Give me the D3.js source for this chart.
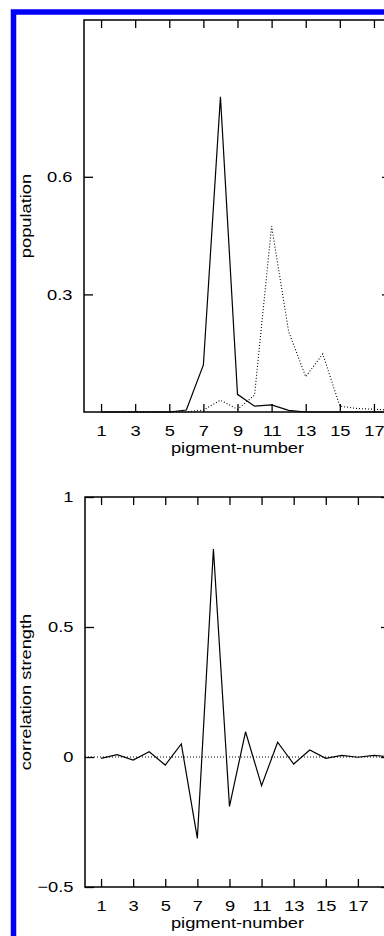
<!DOCTYPE html>
<html>
<head>
<meta charset="utf-8">
<script src="https://cdn.jsdelivr.net/npm/d3@7"></script>
<style>
  body { margin: 0; background: #fff; }
  svg { display: block; }
  text { font-family: "Liberation Sans", Arial, sans-serif; font-size: 15px; fill: #000; }
</style>
</head>
<body>
<svg id="chart"></svg>
<script>
// pigment numbers on the x axis
const pigments = d3.range(1, 19);
const pigmentsCorr = d3.range(1, 20);
const xTicks = [1, 3, 5, 7, 9, 11, 13, 15, 17];

// top panel: population per pigment-number
const popSolid = [0, 0, 0, 0, 0, 0.005, 0.12, 0.804, 0.045, 0.015, 0.018, 0.004, 0, 0, 0, 0, 0, 0];
const popDotted = [0, 0, 0, 0, 0, 0, 0.005, 0.03, 0.007, 0.043, 0.474, 0.205, 0.09, 0.148, 0.015, 0.009, 0.007, 0.005];
const popTicks = [0.3, 0.6];

// bottom panel: correlation strength per pigment-number
const corrValues = [-0.005, 0.009, -0.012, 0.02, -0.031, 0.05, -0.313, 0.80, -0.19, 0.097, -0.11, 0.057, -0.027, 0.027, -0.005, 0.006, -0.001, 0.006, 0.001];
const corrTicks = [-0.5, 0, 0.5, 1];

const width = 384, height = 936;
const sx = 1.22; // the figure's lettering is wider than plain Arial

const svg = d3.select("#chart").attr("width", width).attr("height", height);

// blue frame round the figure
svg.append("rect")
  .attr("x", 13.5).attr("y", 12)
  .attr("width", 420).attr("height", 980)
  .attr("fill", "none")
  .attr("stroke", "#0000f5")
  .attr("stroke-width", 5.5);

function panel(opts) {
  const { x0, x1, y0, y1, xDomain, yDomain, yTicks, yLabel } = opts;
  const x = d3.scaleLinear().domain(xDomain).range([x0, x1]);
  const y = d3.scaleLinear().domain(yDomain).range([y1, y0]);
  const g = svg.append("g");

  const tick = 8;
  g.append("g")
    .attr("transform", `translate(0,${y1})`)
    .call(d3.axisBottom(x).tickValues(xTicks).tickSizeInner(-tick).tickSizeOuter(0).tickPadding(13).tickFormat(d3.format("d")))
    .call(a => a.select(".domain").remove())
    .call(a => a.selectAll("text").attr("transform", `scale(${sx},1)`));
  g.append("g")
    .attr("transform", `translate(0,${y0})`)
    .call(d3.axisTop(x).tickValues(xTicks).tickSizeInner(-tick).tickSizeOuter(0).tickFormat(""))
    .call(a => a.select(".domain").remove());
  g.append("g")
    .attr("transform", `translate(${x0},0)`)
    .call(d3.axisLeft(y).tickValues(yTicks).tickSizeInner(-9).tickSizeOuter(0).tickFormat(d => d3.format("")(d)))
    .call(a => a.select(".domain").remove())
    .call(a => a.selectAll("text").attr("x", -11.5 / sx).attr("transform", `scale(${sx},1)`));
  g.append("g")
    .attr("transform", `translate(${x1},0)`)
    .call(d3.axisRight(y).tickValues(yTicks).tickSizeInner(-9).tickSizeOuter(0).tickFormat(""))
    .call(a => a.select(".domain").remove());
  g.selectAll(".tick line").attr("stroke", "#000").attr("stroke-width", 1.3);
  g.selectAll(".tick text").style("font-size", "15px").style("font-family", "'Liberation Sans', Arial, sans-serif");

  g.append("rect")
    .attr("x", x0).attr("y", y0)
    .attr("width", x1 - x0).attr("height", y1 - y0)
    .attr("fill", "none").attr("stroke", "#000").attr("stroke-width", 1.5);

  g.append("text")
    .attr("text-anchor", "middle")
    .attr("transform", `translate(${(x0 + x1) / 2},${y1 + 41}) scale(${sx},1)`)
    .text("pigment-number");
  g.append("text")
    .attr("text-anchor", "middle")
    .attr("transform", `translate(30.5,${(y0 + y1) / 2}) rotate(-90) scale(${sx},1)`)
    .text(yLabel);

  return { g, x, y };
}

// top panel
const popPanel = panel({
  x0: 84, x1: 391, y0: 20, y1: 412,
  xDomain: [0, 18], yDomain: [0, 1],
  yTicks: popTicks, yLabel: "population"
});
const lineTop = d3.line().x((d, i) => popPanel.x(pigments[i])).y(d => popPanel.y(d));
popPanel.g.append("path").datum(popDotted)
  .attr("d", lineTop).attr("fill", "none")
  .attr("stroke", "#000").attr("stroke-width", 1.1).attr("stroke-dasharray", "1,2");
popPanel.g.append("path").datum(popSolid)
  .attr("d", lineTop).attr("fill", "none")
  .attr("stroke", "#000").attr("stroke-width", 1.2);

// bottom panel
const corrPanel = panel({
  x0: 85, x1: 390, y0: 497, y1: 887,
  xDomain: [0, 19], yDomain: [-0.5, 1],
  yTicks: corrTicks, yLabel: "correlation strength"
});
corrPanel.g.append("line")
  .attr("x1", corrPanel.x(0)).attr("x2", corrPanel.x(19))
  .attr("y1", corrPanel.y(0)).attr("y2", corrPanel.y(0))
  .attr("stroke", "#000").attr("stroke-width", 1.1).attr("stroke-dasharray", "1,2");
const lineBot = d3.line().x((d, i) => corrPanel.x(pigmentsCorr[i])).y(d => corrPanel.y(d));
corrPanel.g.append("path").datum(corrValues)
  .attr("d", lineBot).attr("fill", "none")
  .attr("stroke", "#000").attr("stroke-width", 1.2);
</script>
</body>
</html>
